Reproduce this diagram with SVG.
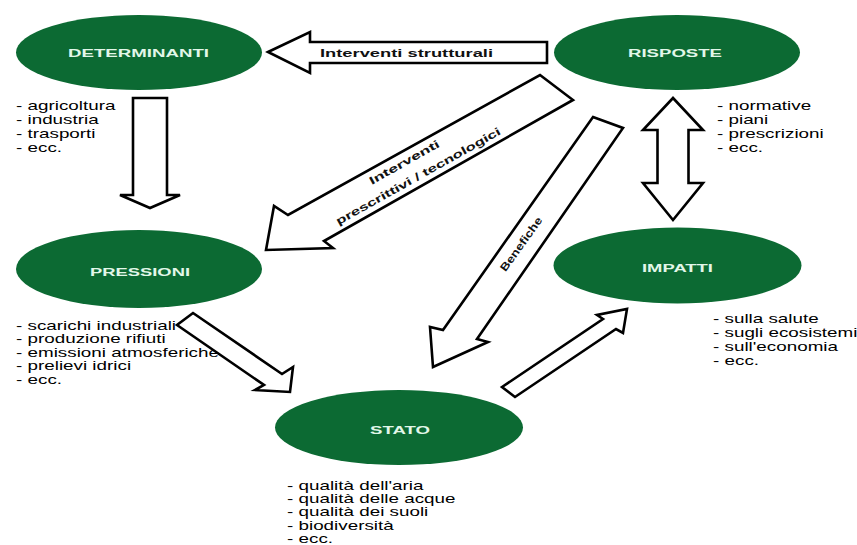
<svg xmlns="http://www.w3.org/2000/svg" width="857" height="545" viewBox="0 0 857 545">
<style>
.node{fill:#0c6a33;}
.lbl{font-family:"Liberation Sans",Arial,sans-serif;font-weight:bold;font-size:11px;fill:#e2f7e9;text-anchor:middle;}
.lst{font-family:"Liberation Sans",Arial,sans-serif;font-size:12px;fill:#000;}
.arr{fill:#fff;stroke:#000;stroke-width:2.6;stroke-linejoin:miter;}
.alb{font-family:"Liberation Sans",Arial,sans-serif;font-weight:bold;font-size:11px;fill:#111;text-anchor:middle;}
</style>
<rect width="857" height="545" fill="#fff"/>
<g id="determinanti">
<ellipse class="node" cx="139" cy="52.5" rx="123" ry="37.5"/>
<text class="lbl" x="138.5" y="57" textLength="141" lengthAdjust="spacingAndGlyphs">DETERMINANTI</text>
<text class="lst" transform="translate(16 110) scale(1.57 1)"><tspan x="0" y="0">- agricoltura</tspan><tspan x="0" y="14">- industria</tspan><tspan x="0" y="28">- trasporti</tspan><tspan x="0" y="42">- ecc.</tspan></text>
</g>
<g id="risposte">
<ellipse class="node" cx="677" cy="52.5" rx="123" ry="37.5"/>
<text class="lbl" x="675" y="57" textLength="94" lengthAdjust="spacingAndGlyphs">RISPOSTE</text>
<text class="lst" transform="translate(717 110) scale(1.57 1)"><tspan x="0" y="0">- normative</tspan><tspan x="0" y="14">- piani</tspan><tspan x="0" y="28">- prescrizioni</tspan><tspan x="0" y="42">- ecc.</tspan></text>
</g>
<g id="pressioni">
<ellipse class="node" cx="139" cy="269" rx="123" ry="39"/>
<text class="lbl" x="140" y="276" textLength="100" lengthAdjust="spacingAndGlyphs">PRESSIONI</text>
<text class="lst" transform="translate(16 330) scale(1.57 1)"><tspan x="0" y="0">- scarichi industriali</tspan><tspan x="0" y="13.5">- produzione rifiuti</tspan><tspan x="0" y="27">- emissioni atmosferiche</tspan><tspan x="0" y="40.5">- prelievi idrici</tspan><tspan x="0" y="54">- ecc.</tspan></text>
</g>
<g id="impatti">
<ellipse class="node" cx="677.5" cy="265.5" rx="124" ry="38"/>
<text class="lbl" x="677.5" y="272" textLength="71" lengthAdjust="spacingAndGlyphs">IMPATTI</text>
<text class="lst" transform="translate(713 323) scale(1.57 1)"><tspan x="0" y="0">- sulla salute</tspan><tspan x="0" y="14">- sugli ecosistemi</tspan><tspan x="0" y="28">- sull'economia</tspan><tspan x="0" y="42">- ecc.</tspan></text>
</g>
<g id="stato">
<ellipse class="node" cx="399" cy="427.5" rx="124" ry="37.5"/>
<text class="lbl" x="400" y="434" textLength="60" lengthAdjust="spacingAndGlyphs">STATO</text>
<text class="lst" transform="translate(287 490) scale(1.57 1)"><tspan x="0" y="0">- qualità dell'aria</tspan><tspan x="0" y="13.25">- qualità delle acque</tspan><tspan x="0" y="26.5">- qualità dei suoli</tspan><tspan x="0" y="39.75">- biodiversità</tspan><tspan x="0" y="53">- ecc.</tspan></text>
</g>
<g id="connectors">
<polygon class="arr" points="268,52 310,32 310,42 547,42 547,63 310,63 310,73"/>
<text class="alb" x="406.5" y="57" textLength="173" lengthAdjust="spacingAndGlyphs">Interventi strutturali</text>
<polygon class="arr" points="133,98 167,98 167,195 180,195 150,208 120,195 133,195"/>
<polygon class="arr" points="673,98 703,130 688.5,130 688.5,183 703,183 673,220 643,183 657.5,183 657.5,130 643,130"/>
<polygon class="arr" points="540,75 573,100 324,241 333,248 266,250 274,206 288,215"/>
<g transform="translate(410.9 169.2) rotate(-29.3)">
<text class="alb" x="-2.4" y="-5.5" textLength="79" lengthAdjust="spacingAndGlyphs">Interventi</text>
<text class="alb" x="3" y="13.5" textLength="187" lengthAdjust="spacingAndGlyphs">prescrittivi / tecnologici</text>
</g>
<polygon class="arr" points="593,117 623,128 477,339 488,342 433,367 430,327 443,330"/>
<text class="alb" transform="translate(521 244) rotate(-54.4)" x="0" y="4" textLength="64" lengthAdjust="spacingAndGlyphs">Benefiche</text>
<polygon class="arr" points="193,313 282,374 293,367 290,392 255,390 264,385 177,325"/>
<polygon class="arr" points="502,387 603,319 597,315 627,309 623,333 616,329 515,397"/>
</g>
</svg>
